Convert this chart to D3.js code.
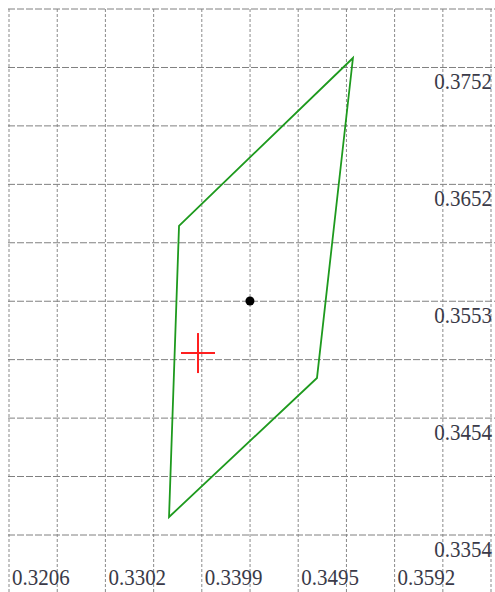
<!DOCTYPE html>
<html>
<head>
<meta charset="utf-8">
<script src="https://cdn.jsdelivr.net/npm/d3@7"></script>
<style>
  html, body { margin: 0; padding: 0; background: #fff; }
  svg { display: block; }
  .tick-label { font-family: 'Liberation Serif', 'Times New Roman', Times, serif; font-size: 21px; fill: #3a3a48; }
</style>
</head>
<body>
<svg id="chart" width="495" height="592"></svg>
<script>
// ---- Data ----
const xGridValues = [0.3206, 0.32543, 0.33025, 0.33508, 0.3399, 0.34473, 0.34955, 0.35438, 0.3592, 0.36403, 0.36885];
const yGridValues = [0.3354, 0.34038, 0.34535, 0.35033, 0.3553, 0.36028, 0.36525, 0.37023, 0.3752, 0.38018];
const xTickValues = [0.3206, 0.33025, 0.3399, 0.34955, 0.3592];
const xTickLabels = ["0.3206", "0.3302", "0.3399", "0.3495", "0.3592"];
const yTickValues = [0.3752, 0.36525, 0.3553, 0.34535, 0.3354];
const yTickLabels = ["0.3752", "0.3652", "0.3553", "0.3454", "0.3354"];

const polygonX = [0.35503, 0.35143, 0.33662, 0.33762];
const polygonY = [0.37601, 0.34877, 0.33693, 0.36171];
const dotPoint = [0.34472, 0.35532];
const crossPoint = [0.33952, 0.35089];

// ---- Scales ----
const x = d3.scaleLinear().domain([0.3206, 0.36885]).range([9, 491]);
const y = d3.scaleLinear().domain([0.3354, 0.38018]).range([535, 9]);

const svg = d3.select("#chart");

// Grid
svg.append("g").selectAll("line").data(xGridValues).join("line")
  .attr("x1", d => x(d)).attr("x2", d => x(d))
  .attr("y1", 9).attr("y2", 592)
  .attr("stroke", "#8a8a8a").attr("stroke-width", 1)
  .attr("stroke-dasharray", "3,2");

svg.append("g").selectAll("line").data(yGridValues).join("line")
  .attr("x1", 8).attr("x2", 495)
  .attr("y1", d => y(d)).attr("y2", d => y(d))
  .attr("stroke", "#808080").attr("stroke-width", 1)
  .attr("stroke-dasharray", "7,2");

// Tick labels (slightly stretched vertically like the reference)
svg.append("g").selectAll("text").data(xTickValues).join("text")
  .attr("class", "tick-label")
  .attr("transform", d => `translate(${x(d) + 3},585) scale(1,1.12)`)
  .text((d, i) => xTickLabels[i]);

svg.append("g").selectAll("text").data(yTickValues).join("text")
  .attr("class", "tick-label")
  .attr("text-anchor", "end")
  .attr("transform", d => `translate(492,${y(d) + 22}) scale(1,1.12)`)
  .text((d, i) => yTickLabels[i]);

// Polygon
const pts = polygonX.map((v, i) => [x(v), y(polygonY[i])]);
svg.append("path")
  .attr("d", d3.line()(pts) + "Z")
  .attr("fill", "none").attr("stroke", "#1e9a1e").attr("stroke-width", 1.8)
  .attr("stroke-linejoin", "miter");

// Dot
svg.append("circle")
  .attr("cx", x(dotPoint[0])).attr("cy", y(dotPoint[1])).attr("r", 4.5)
  .attr("fill", "#000");

// Cross
const cx = x(crossPoint[0]), cy = y(crossPoint[1]);
svg.append("line").attr("x1", cx - 17).attr("x2", cx + 17).attr("y1", cy).attr("y2", cy)
  .attr("stroke", "#ff2020").attr("stroke-width", 2);
svg.append("line").attr("x1", cx).attr("x2", cx).attr("y1", cy - 20).attr("y2", cy + 20)
  .attr("stroke", "#ff2020").attr("stroke-width", 2);
</script>
</body>
</html>
